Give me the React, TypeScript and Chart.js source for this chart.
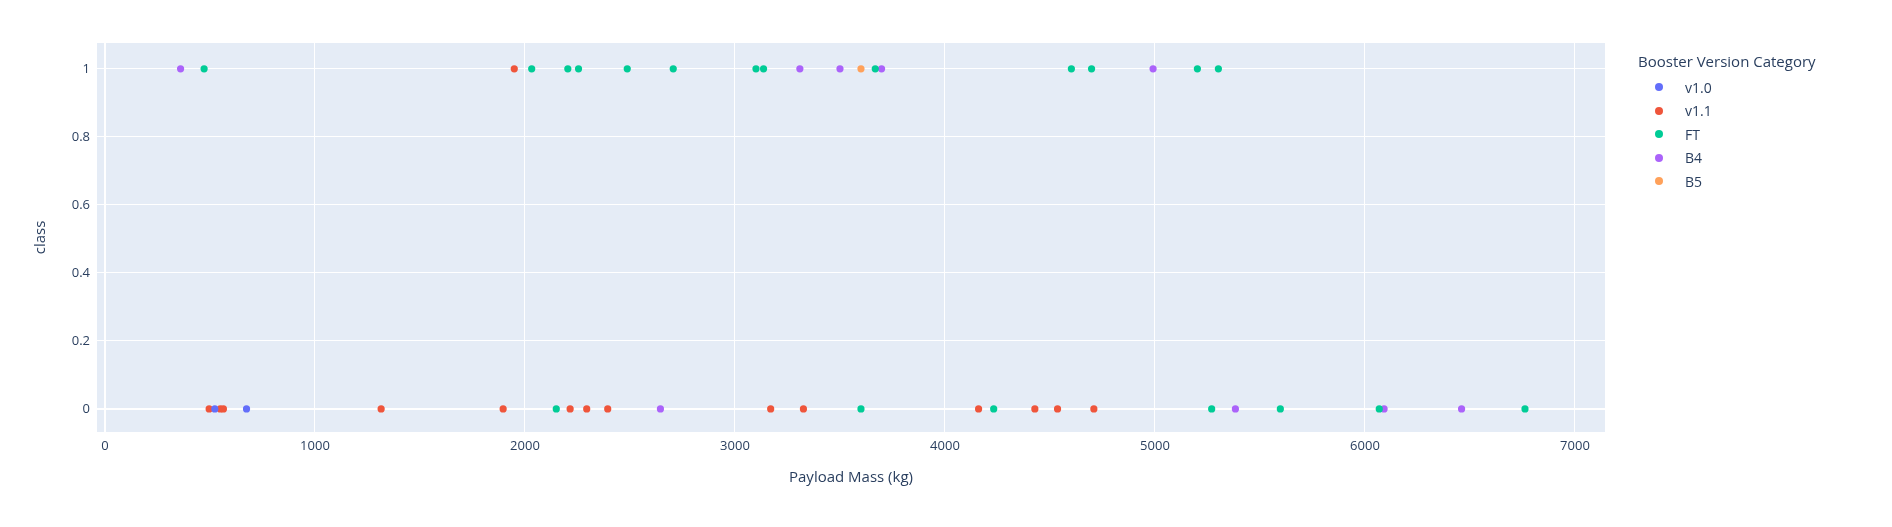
import { useEffect, useRef } from "react";
import { Chart, registerables } from "chart.js";

Chart.register(...registerables);

const categories = ["v1.0", "v1.1", "FT", "B4", "B5"];
const colors = ["#636efa", "#EF553B", "#00cc96", "#ab63fa", "#FFA15A"];

// payload mass values, class 1 and class 0, per booster version
const v10_success: number[] = [];
const v10_fail = [523, 674];
const v11_success = [1949];
const v11_fail = [496, 549, 564, 1315, 1896, 2215, 2294, 2394, 3170, 3326, 4160, 4428, 4536, 4709];
const ft_success = [472, 2032, 2204, 2255, 2487, 2706, 3100, 3136, 3668, 4602, 4698, 5202, 5302];
const ft_fail = [2149, 3600, 4232, 5270, 5597, 6068, 6762];
const b4_success = [360, 3309, 3500, 3698, 4991];
const b4_fail = [2645, 5383, 6091, 6460];
const b5_success = [3600];
const b5_fail: number[] = [];

const successes = [v10_success, v11_success, ft_success, b4_success, b5_success];
const failures = [v10_fail, v11_fail, ft_fail, b4_fail, b5_fail];

const xTicks = [0, 1000, 2000, 3000, 4000, 5000, 6000, 7000];
const yTicks = [0, 0.2, 0.4, 0.6, 0.8, 1];

const plotBg = {
  id: "plotBg",
  beforeDraw(chart: Chart) {
    const { ctx, chartArea: a } = chart;
    ctx.save();
    ctx.fillStyle = "#E5ECF6";
    ctx.fillRect(a.left, a.top, a.right - a.left, a.bottom - a.top);
    ctx.restore();
  },
};

const FONT = "'Open Sans', 'Noto Sans', sans-serif";
const INK = "#2a3f5f";

export default function App() {
  const ref = useRef<HTMLCanvasElement>(null);

  useEffect(() => {
    if (!ref.current) return;
    const chart = new Chart(ref.current, {
      type: "scatter",
      data: {
        datasets: categories.map((name, i) => ({
          label: name,
          data: [
            ...successes[i].map((x) => ({ x, y: 1 })),
            ...failures[i].map((x) => ({ x, y: 0 })),
          ],
          backgroundColor: colors[i],
          borderWidth: 0,
          pointRadius: 3.6,
        })),
      },
      plugins: [plotBg],
      options: {
        responsive: false,
        animation: false,
        layout: { padding: { top: 43, right: 287, left: 0, bottom: 0 } },
        plugins: { legend: { display: false }, tooltip: { enabled: false } },
        scales: {
          x: {
            type: "linear",
            min: -38,
            max: 7143,
            afterBuildTicks: (s: any) => {
              s.ticks = xTicks.map((v) => ({ value: v }));
            },
            afterFit: (s: any) => {
              s.height = 95;
            },
            grid: {
              color: "#ffffff",
              lineWidth: (c: any) => (c.tick && c.tick.value === 0 ? 2 : 1),
              drawTicks: false,
            },
            border: { display: false },
            ticks: {
              color: INK,
              font: { family: FONT, size: 13 },
              padding: 6,
              callback: (v: any) => String(v),
            },
            title: {
              display: true,
              text: "Payload Mass (kg)",
              color: INK,
              font: { family: FONT, size: 15 },
              padding: { top: 0, bottom: 40 },
            },
          },
          y: {
            type: "linear",
            min: -0.068,
            max: 1.076,
            afterBuildTicks: (s: any) => {
              s.ticks = yTicks.map((v) => ({ value: v }));
            },
            afterFit: (s: any) => {
              s.width = 97;
            },
            grid: {
              color: "#ffffff",
              lineWidth: (c: any) => (c.tick && c.tick.value === 0 ? 2 : 1),
              drawTicks: false,
            },
            border: { display: false },
            ticks: {
              color: INK,
              font: { family: FONT, size: 13 },
              padding: 7,
              callback: (v: any) => String(Math.round(Number(v) * 10) / 10),
            },
            title: {
              display: true,
              text: "class",
              color: INK,
              font: { family: FONT, size: 15 },
              padding: { top: 32, bottom: 0 },
            },
          },
        },
      },
    });
    return () => chart.destroy();
  }, []);

  return (
    <div style={{ position: "relative", width: 1892, height: 527, margin: -8, background: "#fff", fontFamily: FONT, color: INK }}>
      <canvas ref={ref} width={1892} height={527} style={{ display: "block" }} />
      <div style={{ position: "absolute", left: 1638, top: 51, fontSize: 15, whiteSpace: "nowrap" }}>
        Booster Version Category
      </div>
      {categories.map((c, i) => (
        <div key={c} style={{ position: "absolute", left: 1655, top: 78 + i * 23.5, height: 18, display: "flex", alignItems: "center", fontSize: 14 }}>
          <span style={{ width: 8, height: 8, borderRadius: 4, background: colors[i], display: "inline-block" }} />
          <span style={{ marginLeft: 22 }}>{c}</span>
        </div>
      ))}
    </div>
  );
}
